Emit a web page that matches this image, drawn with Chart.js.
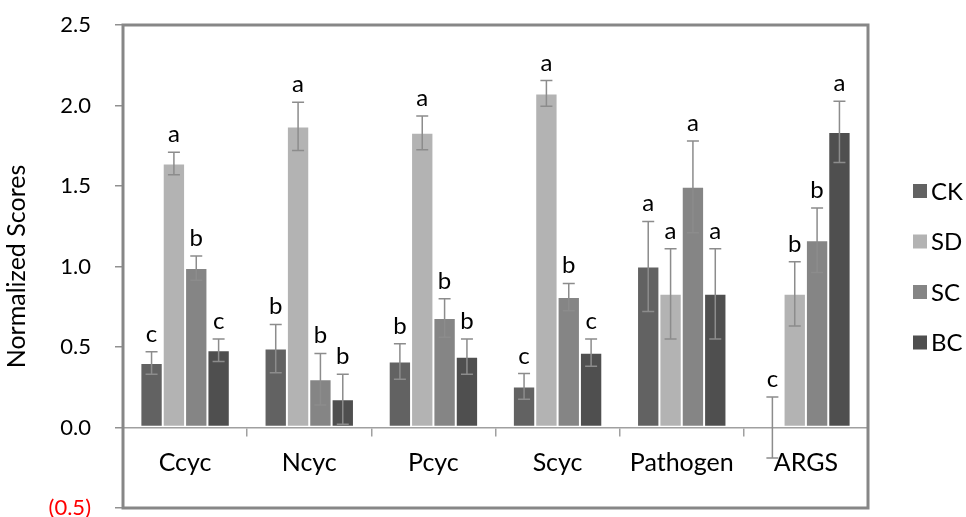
<!DOCTYPE html>
<html>
<head>
<meta charset="utf-8">
<script src="https://cdn.jsdelivr.net/npm/chart.js@4"></script>
<style>
  html, body { margin: 0; padding: 0; background: #fff; }
</style>
</head>
<body>
<canvas id="myChart" width="966" height="517"></canvas>
<script>
const categories = ['Ccyc', 'Ncyc', 'Pcyc', 'Scyc', 'Pathogen', 'ARGS'];
const seriesNames = ['CK', 'SD', 'SC', 'BC'];

const ckValues = [0.40, 0.49, 0.41, 0.255, 1.00, 0.00];
const sdValues = [1.64, 1.87, 1.83, 2.075, 0.83, 0.83];
const scValues = [0.99, 0.30, 0.68, 0.81, 1.495, 1.163];
const bcValues = [0.48, 0.175, 0.44, 0.465, 0.83, 1.836];

const ckErrors = [0.07, 0.15, 0.11, 0.08, 0.28, 0.19];
const sdErrors = [0.07, 0.15, 0.105, 0.08, 0.28, 0.20];
const scErrors = [0.075, 0.16, 0.12, 0.085, 0.285, 0.20];
const bcErrors = [0.07, 0.155, 0.11, 0.085, 0.28, 0.19];

const ckLetters = ['c', 'b', 'b', 'c', 'a', 'c'];
const sdLetters = ['a', 'a', 'a', 'a', 'a', 'b'];
const scLetters = ['b', 'b', 'b', 'b', 'a', 'b'];
const bcLetters = ['c', 'b', 'b', 'c', 'a', 'a'];

const yTickLabels = ['(0.5)', '0.0', '0.5', '1.0', '1.5', '2.0', '2.5'];

const colors = ['#626262', '#b3b3b3', '#858585', '#4f4f4f'];
const allValues = [ckValues, sdValues, scValues, bcValues];
const allErrors = [ckErrors, sdErrors, scErrors, bcErrors];
const allLetters = [ckLetters, sdLetters, scLetters, bcLetters];

Chart.defaults.font.family = 'Lato';

// error bars + significance letters
const errorBars = {
    id: 'errorBars',
    afterDatasetsDraw(chart) {
        const ctx = chart.ctx;
        const yScale = chart.scales.y;
        ctx.save();
        chart.data.datasets.forEach((ds, di) => {
            const meta = chart.getDatasetMeta(di);
            meta.data.forEach((bar, i) => {
                const v = ds.data[i];
                const e = allErrors[di][i];
                const top = yScale.getPixelForValue(v + e);
                const bot = yScale.getPixelForValue(v - e);
                ctx.strokeStyle = '#8c8c8c';
                ctx.lineWidth = 1.5;
                ctx.beginPath();
                ctx.moveTo(bar.x, top); ctx.lineTo(bar.x, bot);
                ctx.moveTo(bar.x - 6, top); ctx.lineTo(bar.x + 6, top);
                ctx.moveTo(bar.x - 6, bot); ctx.lineTo(bar.x + 6, bot);
                ctx.stroke();
                ctx.fillStyle = '#000';
                ctx.font = '24px Lato';
                ctx.textAlign = 'center';
                ctx.textBaseline = 'alphabetic';
                ctx.fillText(allLetters[di][i], bar.x, top - 10);
            });
        });
        ctx.restore();
    }
};

// plot frame and legend
const frameAndLegend = {
    id: 'frameAndLegend',
    afterDraw(chart) {
        const ctx = chart.ctx;
        const a = chart.chartArea;
        ctx.save();
        ctx.strokeStyle = '#878787';
        ctx.lineWidth = 3;
        ctx.strokeRect(a.left, a.top, a.right - a.left, a.bottom - a.top);

        ctx.font = '24px Lato';
        ctx.textAlign = 'left';
        ctx.textBaseline = 'middle';
        chart.data.datasets.forEach((ds, i) => {
            const cy = 191 + i * 50.5;
            ctx.fillStyle = ds.backgroundColor;
            ctx.fillRect(913, cy - 7, 14, 14);
            ctx.fillStyle = '#000';
            ctx.fillText(ds.label, 931, cy + 1);
        });
        ctx.restore();
    }
};

const ctx = document.getElementById('myChart').getContext('2d');
new Chart(ctx, {
    type: 'bar',
    data: {
        labels: categories,
        datasets: seriesNames.map((name, i) => ({
            label: name,
            data: allValues[i],
            backgroundColor: colors[i],
            borderColor: '#ffffff',
            borderWidth: 1,
            borderSkipped: false,
            categoryPercentage: 0.72,
            barPercentage: 1.0
        }))
    },
    options: {
        responsive: false,
        animation: false,
        devicePixelRatio: 1,
        layout: { padding: { left: 0, right: 98, top: 25, bottom: 9 } },
        plugins: {
            legend: { display: false },
            tooltip: { enabled: false }
        },
        scales: {
            x: {
                position: { y: 0 },
                grid: {
                    offset: true,
                    drawOnChartArea: false,
                    tickLength: 8,
                    color: '#a0a0a0',
                    lineWidth: 1.5
                },
                border: { display: true, color: '#a0a0a0', width: 1.5 },
                ticks: {
                    color: '#000',
                    font: { size: 25 },
                    padding: 12,
                    maxRotation: 0
                },
                afterFit: s => {
                    s.height = 0;
                    s.paddingLeft = 0;
                    s.paddingRight = 0;
                }
            },
            y: {
                min: -0.5,
                max: 2.5,
                ticks: {
                    stepSize: 0.5,
                    padding: 24,
                    font: { size: 22 },
                    color: c => (c.tick && c.tick.value < 0 ? '#ff0000' : '#000'),
                    callback: (value, index) => yTickLabels[index]
                },
                grid: {
                    drawOnChartArea: false,
                    tickLength: 8,
                    color: '#909090',
                    lineWidth: 1.5
                },
                border: { display: false },
                title: {
                    display: true,
                    text: 'Normalized Scores',
                    color: '#000',
                    font: { size: 25 },
                    padding: { top: 2, bottom: 0 }
                },
                afterFit: s => {
                    s.width = 123;
                    s.paddingTop = 0;
                    s.paddingBottom = 0;
                }
            }
        }
    },
    plugins: [errorBars, frameAndLegend]
});
</script>
</body>
</html>
